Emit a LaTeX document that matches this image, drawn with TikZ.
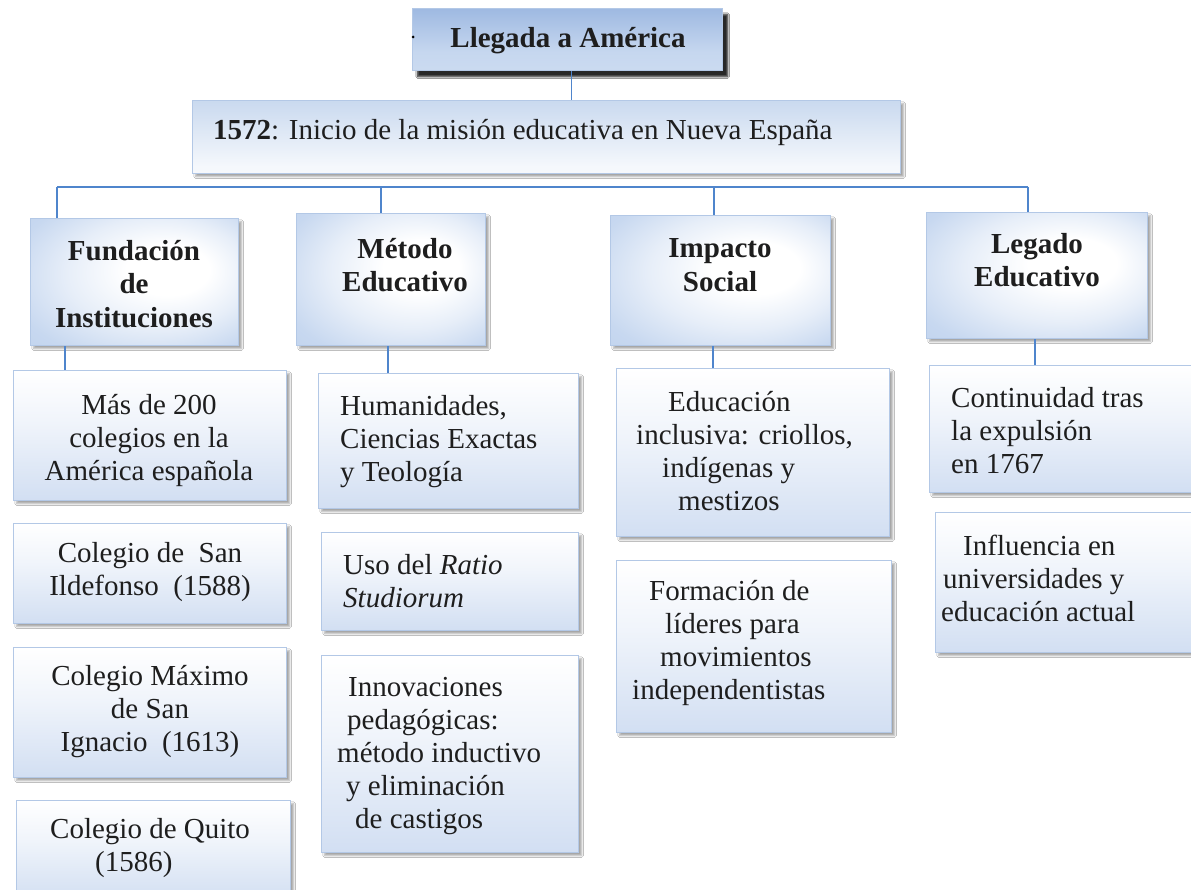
\documentclass[tikz,border=0pt]{standalone}
\usepackage{fontspec}
\setmainfont{Liberation Serif}
\usetikzlibrary{shadows.blur,calc}
\definecolor{bord}{HTML}{B3C8E6}
\definecolor{lb}{HTML}{C3D4EE}
\definecolor{cb}{HTML}{B9CEEC}
\definecolor{conn}{HTML}{4F85CC}
\definecolor{tt}{HTML}{82A4D8}
\definecolor{tb}{HTML}{D2E0F3}
\definecolor{yt}{HTML}{BCD0EB}
\definecolor{txt}{HTML}{1E1E1E}
\pgfdeclareverticalshading{leafsh}{100bp}{color(0bp)=(lb); color(25bp)=(lb!75!white); color(55bp)=(lb!25!white); color(75bp)=(white); color(100bp)=(white)}
\pgfdeclareverticalshading{yrsh}{100bp}{color(0bp)=(white!94!yt); color(30bp)=(white!85!yt); color(75bp)=(yt!80!white); color(100bp)=(yt)}
\pgfdeclareverticalshading{titlesh}{100bp}{color(0bp)=(tb); color(40bp)=(tb!85!tt); color(100bp)=(tt)}
\pgfdeclareradialshading{catsh}{\pgfpoint{10bp}{6bp}}{color(0bp)=(white); color(10bp)=(white); color(22bp)=(cb!35!white); color(34bp)=(cb!80!white); color(50bp)=(cb)}
\tikzset{
  box/.style={draw=bord, line width=1.2pt, anchor=north west, inner sep=0pt,
    blur shadow={shadow xshift=3pt, shadow yshift=-3pt, shadow blur steps=6, shadow opacity=35}},
  leaf/.style={box, shading=leafsh},
  catbox/.style={box, shading=catsh},
  titlebox/.style={box, shading=titlesh,
    blur shadow={shadow xshift=5pt, shadow yshift=-6pt, shadow blur steps=8, shadow opacity=60}},
  yrbox/.style={box, shading=yrsh},
  tx/.style={inner sep=0pt, font=\fontsize{29}{33}\selectfont, text=txt},
  hd/.style={tx, font=\fontsize{29}{33.5}\selectfont\bfseries},
  con/.style={draw=conn, line width=1.5pt}
}
\begin{document}
\begin{tikzpicture}[x=1pt,y=-1pt]
\useasboundingbox[fill=white] (0,0) rectangle (1191,890);
% boxes
\node[titlebox, minimum width=310pt, minimum height=62pt] (title) at (412,8) {};
\node[yrbox, minimum width=708pt, minimum height=73pt] (yr) at (192,100) {};
\node[catbox, minimum width=208pt, minimum height=127pt] (fund) at (30,218) {};
\node[catbox, minimum width=189pt, minimum height=132pt] (meto) at (296,213) {};
\node[catbox, minimum width=220pt, minimum height=130pt] (imp) at (610,215) {};
\node[catbox, minimum width=221pt, minimum height=126pt] (leg) at (926,212) {};
\node[leaf, minimum width=273pt, minimum height=130pt] (f1) at (13,370) {};
\node[leaf, minimum width=273pt, minimum height=100pt] (f2) at (13,523) {};
\node[leaf, minimum width=273pt, minimum height=130pt] (f3) at (13,647) {};
\node[leaf, minimum width=274pt, minimum height=100pt] (f4) at (16,800) {};
\node[leaf, minimum width=260pt, minimum height=135pt] (m1) at (318,373) {};
\node[leaf, minimum width=257pt, minimum height=98pt] (m2) at (321,532) {};
\node[leaf, minimum width=257pt, minimum height=197pt] (m3) at (321,655) {};
\node[leaf, minimum width=273pt, minimum height=168pt] (i1) at (616,368) {};
\node[leaf, minimum width=275pt, minimum height=172pt] (i2) at (616,560) {};
\node[leaf, minimum width=270pt, minimum height=127pt] (g1) at (929,365) {};
\node[leaf, minimum width=264pt, minimum height=140pt] (g2) at (935,512) {};
% texts
\node[circle, fill=black, inner sep=0pt, minimum size=3pt] (dot) at (413,37) {};
\node[hd] (titlet) at (568,41) {Llegada a América};
\node[tx, anchor=west] (yrt) at (213,133) {\textbf{1572}: Inicio de la misión educativa en Nueva España};
\node[hd, align=center] (fundt) at (134,284) {Fundación\\de\\Instituciones};
\node[hd, align=center] (metot) at (405,265) {Método\\Educativo};
\node[hd, align=center] (impt) at (720,265) {Impacto\\Social};
\node[hd, align=center] (legt) at (1037,260) {Legado\\Educativo};
\node[tx, align=center] (f1t) at (149,441) {Más de 200\\colegios en la\\América española};
\node[tx, align=center] (f2t) at (150,572) {Colegio de~ San\\Ildefonso~ (1588)};
\node[tx, align=center] (f3t) at (150,712) {Colegio Máximo\\de San\\Ignacio~ (1613)};
\node[tx, align=left, anchor=west] (f4t) at (50,848) {Colegio de Quito\\\hspace*{45pt}(1586)};
\node[tx, align=left, anchor=west] (m1t) at (340,442) {Humanidades,\\Ciencias Exactas\\y Teología};
\node[tx, align=left, anchor=west] (m2t) at (343,581) {Uso del \textit{Ratio}\\\textit{Studiorum}};
\node[tx, align=left, anchor=west] (m3t) at (337,756) {\hspace*{11pt}Innovaciones\\\hspace*{10pt}pedagógicas:\\método inductivo\\\hspace*{9pt}y eliminación\\\hspace*{18pt}de castigos};
\node[tx, align=left, anchor=west] (i1t) at (636,451) {\hspace*{32pt}Educación\\inclusiva: criollos,\\\hspace*{26pt}indígenas y\\\hspace*{42pt}mestizos};
\node[tx, align=left, anchor=west] (i2t) at (632,643) {\hspace*{17pt}Formación de\\\hspace*{33pt}líderes para\\\hspace*{28pt}movimientos\\independentistas};
\node[tx, align=left, anchor=west] (g1t) at (951,431) {Continuidad tras\\la expulsión\\en 1767};
\node[tx, align=left, anchor=west] (g2t) at (941,578) {\hspace*{22pt}Influencia en\\\hspace*{2pt}universidades y\\educación actual};
% connectors
\coordinate (b1) at (57,187);
\coordinate (b2) at (381,187);
\coordinate (b3) at (714,187);
\coordinate (b4) at (1028,187);
\draw[con] ([xshift=4pt]title.south) -- ([xshift=4pt]title.south |- yr.north);
\draw[con] (b1) -- (b4);
\draw[con] (b1) -- (b1 |- fund.north);
\draw[con] (b2) -- (b2 |- meto.north);
\draw[con] (b3) -- (b3 |- imp.north);
\draw[con] (b4) -- (b4 |- leg.north);
\coordinate (c1) at (65,0);
\coordinate (c2) at (388,0);
\coordinate (c3) at (713,0);
\coordinate (c4) at (1035,0);
\draw[con] (c1 |- fund.south) -- (c1 |- f1.north);
\draw[con] (c2 |- meto.south) -- (c2 |- m1.north);
\draw[con] (c3 |- imp.south) -- (c3 |- i1.north);
\draw[con] (c4 |- leg.south) -- (c4 |- g1.north);
\end{tikzpicture}
\end{document}
